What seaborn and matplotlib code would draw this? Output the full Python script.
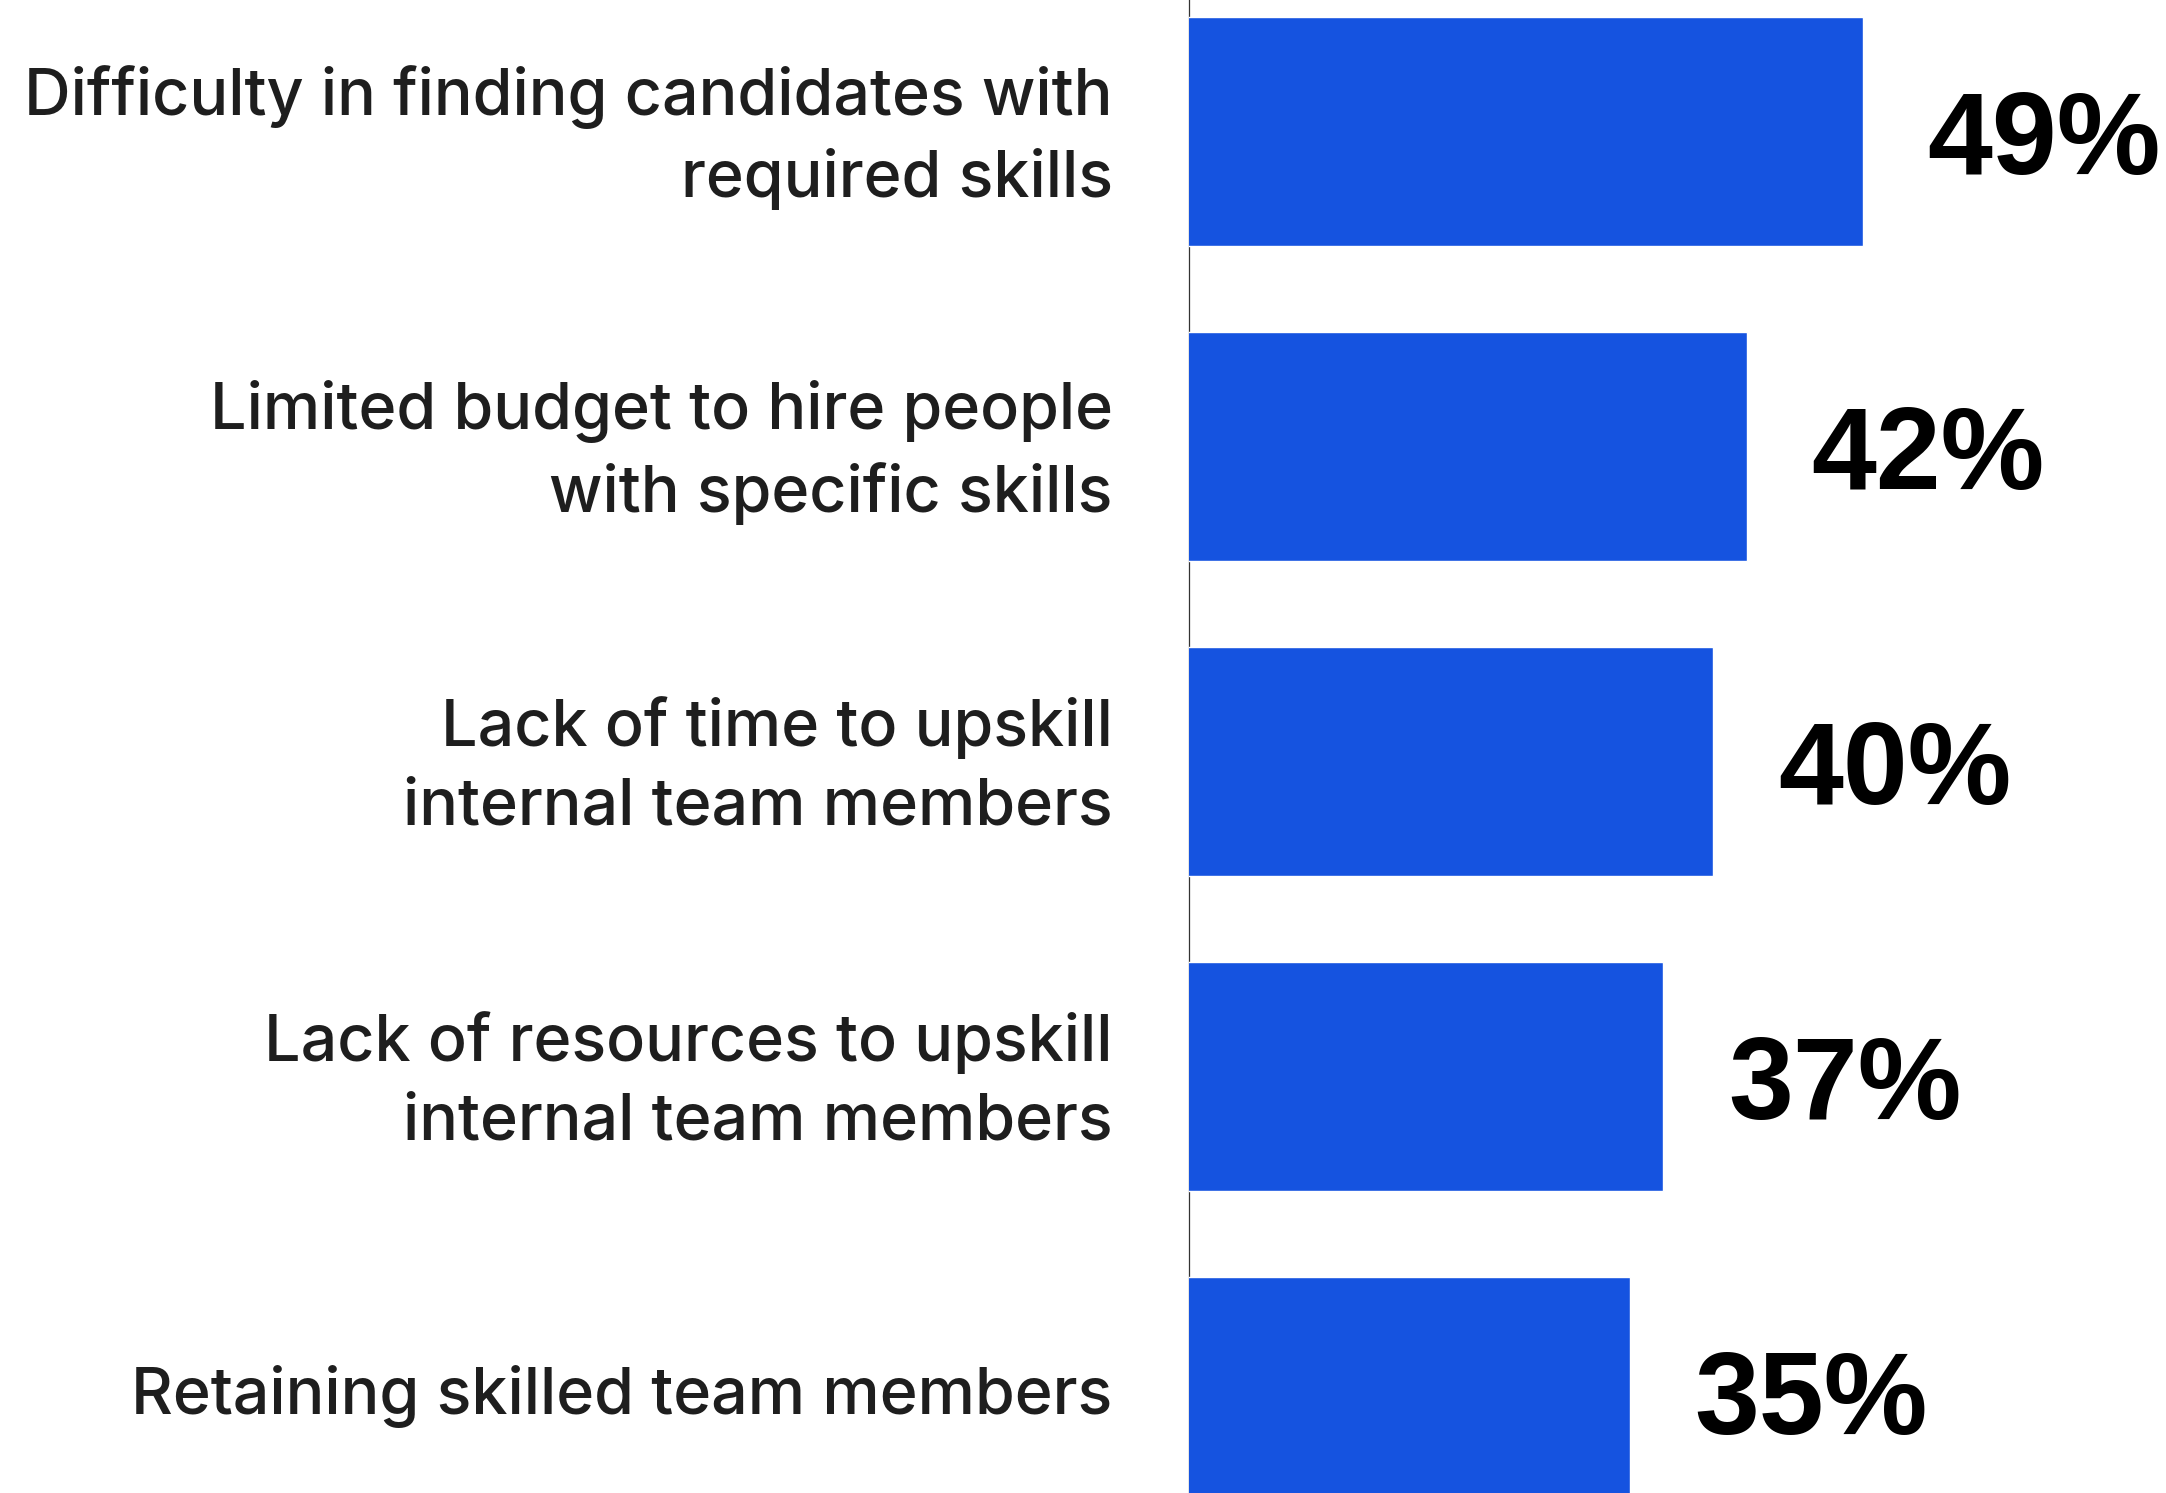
import matplotlib
matplotlib.use("Agg")
import matplotlib.pyplot as plt
import matplotlib.transforms as mtransforms
import seaborn as sns
import pandas as pd

categories = [
    "Difficulty in finding candidates with\nrequired skills",
    "Limited budget to hire people\nwith specific skills",
    "Lack of time to upskill\ninternal team members",
    "Lack of resources to upskill\ninternal team members",
    "Retaining skilled team members",
]
shares = [49, 42, 40, 37, 35]
value_labels = ["49%", "42%", "40%", "37%", "35%"]

df = pd.DataFrame({"challenge": categories, "share": shares})

sns.set_theme(style="white")
plt.rcParams["font.family"] = ["Inter", "DejaVu Sans"]

W, H, DPI = 2166, 1493, 100
fig = plt.figure(figsize=(W / DPI, H / DPI), dpi=DPI)
ax = fig.add_axes([1189 / W, 0.0, (W - 1189) / W, 1.0])

sns.barplot(data=df, y="challenge", x="share", orient="h", color="#1553E0",
            saturation=1, width=0.727, ax=ax)

ax.set_xlim(8.5, 67.2)
ax.set_ylim(4.322, -0.4175)

for patch, txt in zip(ax.patches, value_labels):
    y = patch.get_y() + patch.get_height() / 2
    ax.annotate(txt, xy=(patch.get_width(), y), xytext=(46.5, 0),
                textcoords="offset points", ha="left", va="center_baseline",
                fontsize=84, fontweight="bold", color="black",
                family=["Liberation Sans", "DejaVu Sans"])

ax.set_xlabel("")
ax.set_ylabel("")
ax.set_xticks([])
ax.tick_params(axis="y", length=0, pad=55)
for lab in ax.get_yticklabels():
    lab.set_fontsize(46.5)
    lab.set_fontweight("medium")
    lab.set_color("#1e1e1e")
    lab.set_linespacing(1.39)
    # nudge wrapped labels up a little so both lines sit around the bar
    dy = 7.5 if "\n" in lab.get_text() else 1.5
    lab.set_transform(lab.get_transform() +
                      mtransforms.ScaledTranslation(0, dy / 72, fig.dpi_scale_trans))

for side in ["top", "right", "bottom"]:
    ax.spines[side].set_visible(False)
ax.spines["left"].set_color("#333333")
ax.spines["left"].set_linewidth(0.9)
ax.spines["left"].set_zorder(0)

fig.savefig("out.png", dpi=DPI, facecolor="white")
